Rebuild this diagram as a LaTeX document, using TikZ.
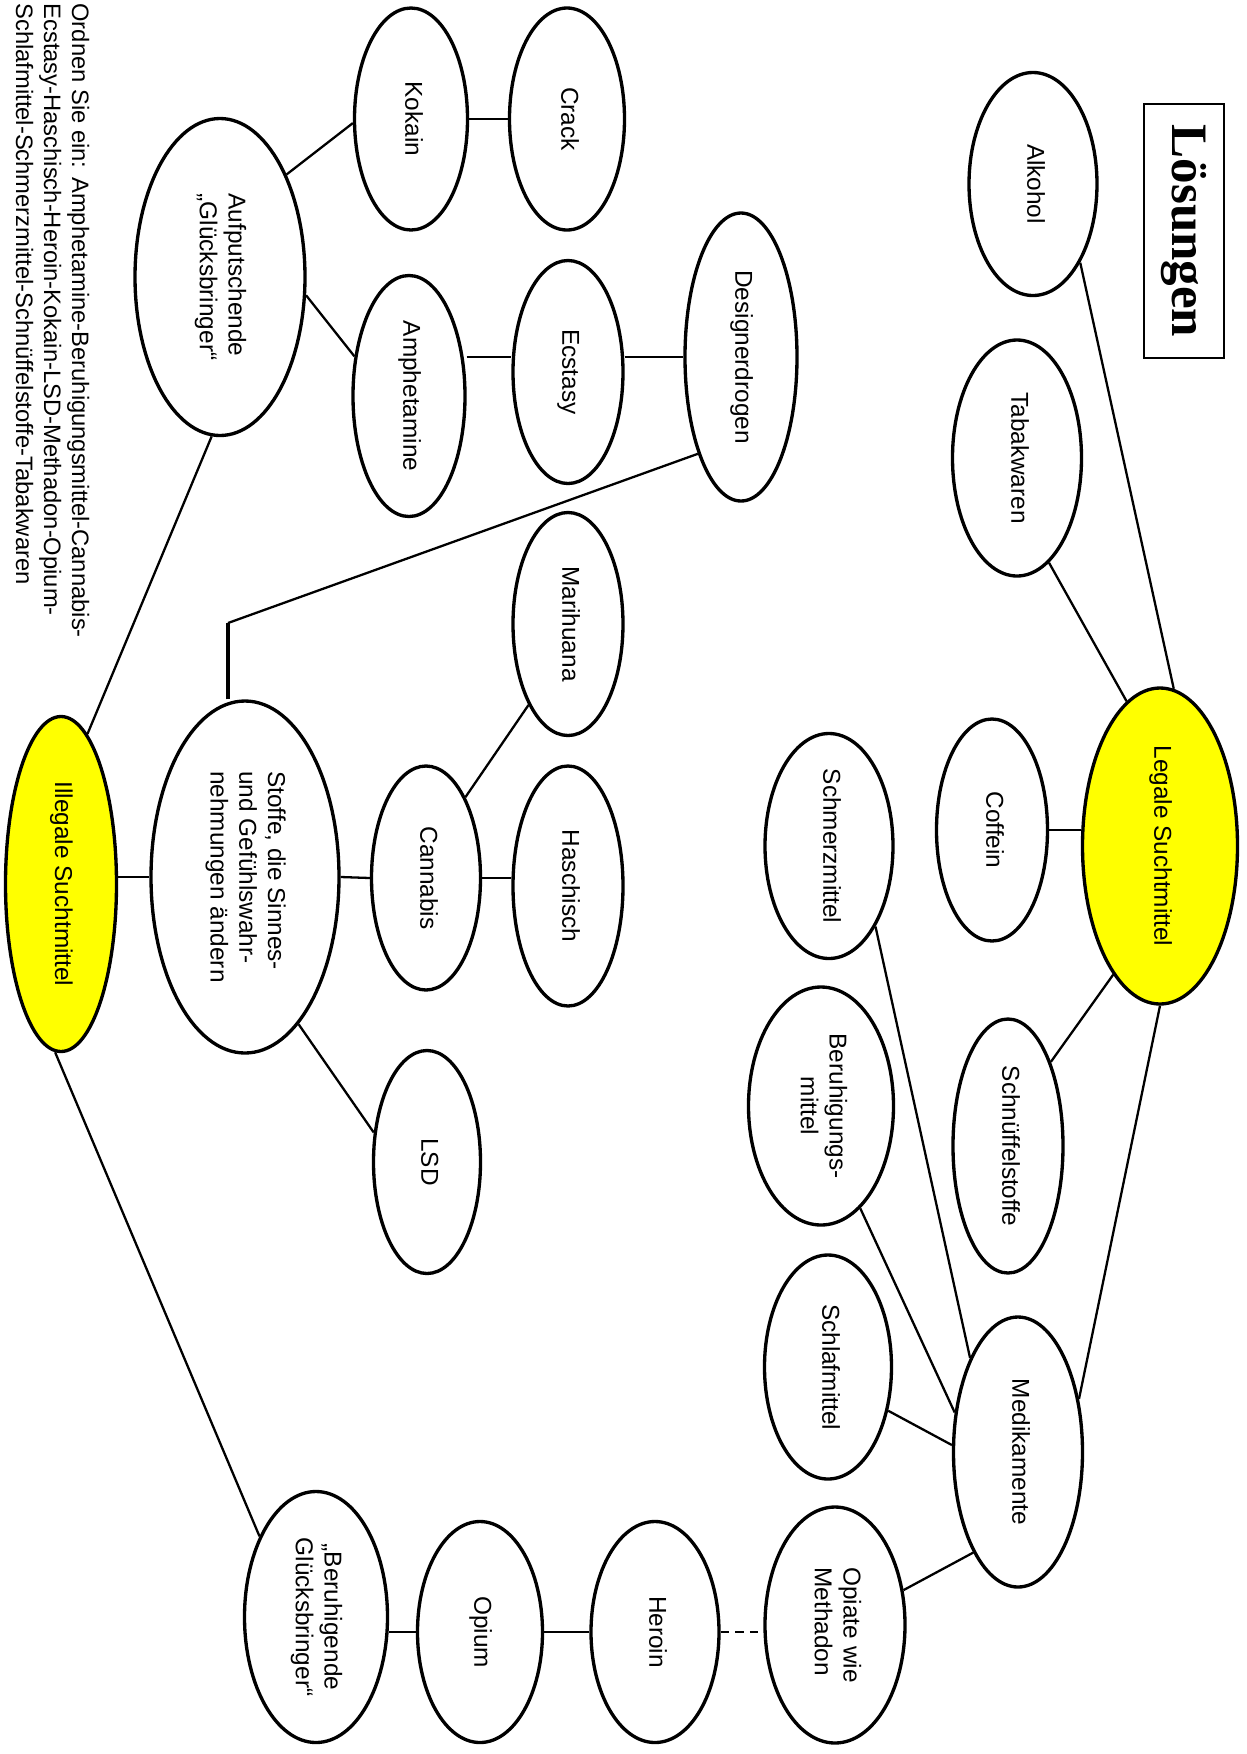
\documentclass[tikz,border=0pt]{standalone}
\usepackage{fontspec}
\setmainfont{Liberation Sans}
\newfontfamily\titelfont{Liberation Serif}
\usepackage{graphicx}
\usetikzlibrary{shapes.geometric}
\definecolor{gelb}{RGB}{255,255,0}
\newcommand{\dreh}[2][c]{\rotatebox{-90}{\begin{tabular}{@{}#1@{}}#2\end{tabular}}}

\begin{document}
\begin{tikzpicture}[
  x=0.48pt, y=-0.48pt,
  blob/.style={draw, ellipse, line width=1.6pt, inner sep=0pt,
               font=\fontsize{11.7}{13.8}\selectfont},
  hot/.style={blob, fill=gelb},
  wh/.style 2 args={minimum width=#1*0.48pt, minimum height=#2*0.48pt},
  link/.style={line width=1.1pt}
]
\useasboundingbox (0,0) rectangle (1247,1754);

% Titel und Aufgabe
\node[draw, line width=1pt, inner sep=0pt, wh={80}{254},
      font=\titelfont\bfseries\fontsize{24.5}{28}\selectfont] (loes) at (1184,231) {\dreh{Lösungen}};
\node[anchor=north east, inner sep=0pt, font=\fontsize{11.4}{13.4}\selectfont] (aufgabe) at (92,3)
  {\dreh[l]{Ordnen Sie ein: Amphetamine-Beruhigungsmittel-Cannabis-\\
            Ecstasy-Haschisch-Heroin-Kokain-LSD-Methadon-Opium-\\
            Schlafmittel-Schmerzmittel-Schnüffelstoffe-Tabakwaren}};

% legale Suchtmittel
\node[hot, wh={155}{316}] (leg) at (1160,846) {\dreh{Legale Suchtmittel}};
\node[blob, wh={128}{223}] (alk) at (1033,184) {\dreh{Alkohol}};
\node[blob, wh={129}{236}] (tab) at (1017,458) {\dreh{Tabakwaren}};
\node[blob, wh={111}{222}] (cof) at (992,830) {\dreh{Coffein}};
\node[blob, wh={110}{254}] (schn) at (1008,1146) {\dreh{Schnüffelstoffe}};
\node[blob, wh={129}{270}] (med) at (1018,1452) {\dreh{Medikamente}};
\node[blob, wh={128}{225}] (schm) at (829,846) {\dreh{Schmerzmittel}};
\node[blob, wh={145}{238}] (ber) at (821,1106) {\dreh{Beruhigungs-\\mittel}};
\node[blob, wh={127}{224}] (schl) at (828,1367) {\dreh{Schlafmittel}};
\node[blob, wh={140}{236}] (opi) at (835,1625) {\dreh[l]{Opiate wie\\Methadon}};

% illegale Suchtmittel
\node[hot, wh={111}{335}] (ill) at (61,884) {\dreh{Illegale Suchtmittel}};
\node[blob, wh={128}{221}] (her) at (655,1632) {\dreh{Heroin}};
\node[blob, wh={125}{221}] (opu) at (480,1632) {\dreh{Opium}};
\node[blob, wh={143}{251}] (bgl) at (316,1617) {\dreh{„Beruhigende\\Glücksbringer“}};
\node[blob, wh={170}{317}] (auf) at (220,277) {\dreh[l]{Aufputschende\\„Glücksbringer“}};
\node[blob, wh={113}{222}] (kok) at (411,119) {\dreh{Kokain}};
\node[blob, wh={115}{222}] (crack) at (567,119) {\dreh{Crack}};
\node[blob, wh={112}{241}] (amph) at (409,396) {\dreh{Amphetamine}};
\node[blob, wh={110}{223}] (ecs) at (568,372) {\dreh{Ecstasy}};
\node[blob, wh={112}{288}] (des) at (741,357) {\dreh{Designerdrogen}};
\node[blob, wh={188}{352}] (stoffe) at (245,877) {\dreh[l]{Stoffe, die Sinnes-\\und Gefühlswahr-\\nehmungen ändern}};
\node[blob, wh={109}{224}] (cann) at (426,878) {\dreh{Cannabis}};
\node[blob, wh={110}{223}] (mari) at (568,624) {\dreh{Marihuana}};
\node[blob, wh={110}{240}] (hasch) at (568,886) {\dreh{Haschisch}};
\node[blob, wh={107}{223}] (lsd) at (427,1162) {\dreh{LSD}};
\coordinate (knick) at (228,623);

% Verbindungen
\draw[link] (alk.-59) -- (leg.85);
\draw[link] (tab.-73) -- (leg.103);
\draw[link] (cof.east) -- (cof.east -| leg.west);
\draw[link] (leg.250) -- (schn.63);
\draw[link] (leg.south) -- (med.41);
\draw[link] (schm.-60) -- (med.117);
\draw[link] (ber.-69) -- (med.148);
\draw[link] (schl.-36) -- (med.174);
\draw[link] (med.246) -- (opi.27);
\draw[link, dash pattern=on 4pt off 3pt] (her.east) -- (her.east -| opi.west);
\draw[link] (opu) -- (her);
\draw[link] (bgl.east |- opu.west) -- (opu.west);
\draw[link] (bgl.125) -- (ill.-92);
\draw[link] (auf.-93) -- (ill.80);
\draw[link] (ill.east |- stoffe.west) -- (stoffe.west);
\draw[link, line width=1.8pt] (knick |- stoffe.north) -- (knick);
\draw[link] (knick) -- (des.246);
\draw[link] (stoffe.east) -- (cann.west);
\draw[link] (cann.east) -- (cann.east -| hasch.west);
\draw[link] (cann.64) -- (mari.244);
\draw[link] (stoffe.-70) -- (lsd.151);
\draw[link] (auf.57) -- (kok.184);
\draw[link] (auf.-12) -- (amph.144);
\draw[link] (amph.east |- des.west) -- (ecs.west |- des.west);
\draw[link] (ecs.east |- des.west) -- (des.west);
\draw[link] (kok) -- (crack);
\end{tikzpicture}
\end{document}
